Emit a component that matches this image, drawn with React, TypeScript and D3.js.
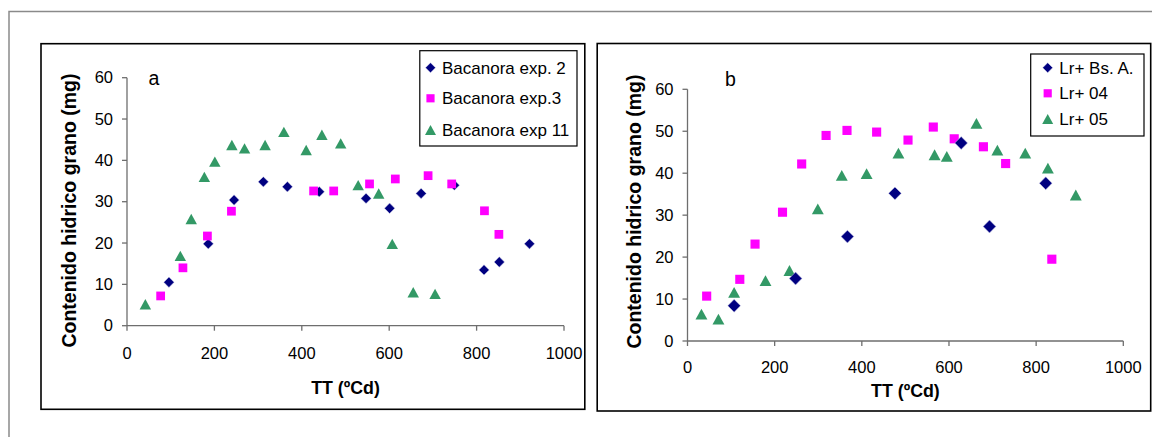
import React from 'react';
import * as d3 from 'd3';

// shared axes
const xTicks = [0, 200, 400, 600, 800, 1000];
const yTicks = [0, 10, 20, 30, 40, 50, 60];

// panel a (TT ºCd, mg)
const bacanoraExp2: [number, number][] = [
  [96, 10.5], [186, 19.8], [245, 30.4], [312, 34.8], [367, 33.6], [440, 32.4], [547, 30.8],
  [601, 28.4], [673, 32.0], [749, 34.0], [817, 13.5], [852, 15.4], [921, 19.8],
];
const bacanoraExp3: [number, number][] = [
  [77, 7.2], [128, 14.0], [184, 21.7], [239, 27.7], [427, 32.6], [473, 32.6], [555, 34.3],
  [614, 35.5], [689, 36.3], [743, 34.3], [818, 27.8], [851, 22.1],
];
const bacanoraExp11: [number, number][] = [
  [42, 5.2], [122, 16.9], [147, 25.8], [177, 36.0], [201, 39.7], [240, 43.7], [269, 42.9],
  [316, 43.7], [359, 46.9], [410, 42.5], [446, 46.2], [489, 44.1], [529, 34.0], [576, 32.0],
  [607, 19.8], [655, 8.1], [705, 7.7],
];
const namesA = ['Bacanora exp. 2', 'Bacanora exp.3', 'Bacanora exp 11'];

// panel b
const lrBsA: [number, number][] = [
  [107, 8.4], [248, 14.9], [367, 24.9], [476, 35.2], [628, 47.2], [693, 27.3], [822, 37.6],
];
const lr04: [number, number][] = [
  [44, 10.7], [120, 14.7], [155, 23.1], [218, 30.7], [262, 42.2], [318, 49.0], [366, 50.2],
  [434, 49.8], [506, 47.9], [564, 51.0], [612, 48.2], [679, 46.3], [730, 42.3], [836, 19.5],
];
const lr05: [number, number][] = [
  [32, 6.4], [71, 5.2], [107, 11.6], [179, 14.4], [234, 16.8], [299, 31.5], [354, 39.5],
  [411, 39.9], [484, 44.8], [567, 44.4], [595, 44.0], [663, 51.9], [711, 45.5], [775, 44.8],
  [827, 41.2], [891, 34.8],
];
const namesB = ['Lr+ Bs. A.', 'Lr+ 04', 'Lr+ 05'];

const FONT = '"Liberation Sans", Arial, Helvetica, sans-serif';
const COLORS = ['#000080', '#FF00FF', '#339966'];

function Marker({ kind, x, y, r }: { kind: number; x: number; y: number; r: number }) {
  if (kind === 0) {
    return (
      <path
        d={`M${x},${y - r}L${x + r},${y}L${x},${y + r}L${x - r},${y}Z`}
        fill={COLORS[0]}
        stroke="#d8d8ee"
        strokeWidth={0.5}
      />
    );
  }
  if (kind === 1) {
    const s = r * 0.95;
    return <rect x={x - s} y={y - s} width={s * 2} height={s * 2} fill={COLORS[1]} />;
  }
  const w = r * 1.1;
  return (
    <path
      d={`M${x},${y - r}L${x + w},${y + r}L${x - w},${y + r}Z`}
      fill={COLORS[2]}
    />
  );
}

interface PanelProps {
  box: { x0: number; y0: number; x1: number; y1: number };
  plot: { x0: number; y0: number; x1: number; y1: number };
  series: [number, number][][];
  names: string[];
  order: number[];
  letter: string;
  letterPos: [number, number];
  yTitleX: number;
  yTitleY: number;
  xLabelY: number;
  xTitleY: number;
  radii: number[];
  legend: { x0: number; y0: number; x1: number; y1: number; mx: number; tx: number; rows: number[] };
}

function Panel(p: PanelProps) {
  const x = d3.scaleLinear().domain([0, 1000]).range([p.plot.x0, p.plot.x1]);
  const y = d3.scaleLinear().domain([0, 60]).range([p.plot.y1, p.plot.y0]);
  const axisColor = '#6e6e6e';
  return (
    <g>
      <rect
        x={p.box.x0}
        y={p.box.y0}
        width={p.box.x1 - p.box.x0}
        height={p.box.y1 - p.box.y0}
        fill="#fff"
        stroke="#000"
        strokeWidth={1.6}
      />
      {/* axes */}
      <line x1={x(0)} x2={x(1000)} y1={y(0)} y2={y(0)} stroke={axisColor} strokeWidth={1.3} />
      <line x1={x(0)} x2={x(0)} y1={y(0)} y2={y(60)} stroke={axisColor} strokeWidth={1.3} />
      {xTicks.map((t) => (
        <g key={'xt' + t}>
          <line x1={x(t)} x2={x(t)} y1={y(0)} y2={y(0) + 5} stroke={axisColor} strokeWidth={1.3} />
          <text x={x(t)} y={p.xLabelY} textAnchor="middle" fontSize={16.5} fontFamily={FONT}>
            {t}
          </text>
        </g>
      ))}
      {yTicks.map((t) => (
        <g key={'yt' + t}>
          <line x1={x(0) - 5} x2={x(0)} y1={y(t)} y2={y(t)} stroke={axisColor} strokeWidth={1.3} />
          <text
            x={x(0) - 14}
            y={y(t)}
            dy="0.35em"
            textAnchor="end"
            fontSize={16.5}
            fontFamily={FONT}
          >
            {t}
          </text>
        </g>
      ))}
      <text
        x={(p.plot.x0 + p.plot.x1) / 2}
        y={p.xTitleY}
        textAnchor="middle"
        fontSize={17.8}
        fontWeight="bold"
        fontFamily={FONT}
      >
        TT (ºCd)
      </text>
      <text
        transform={`translate(${p.yTitleX},${p.yTitleY}) rotate(-90)`}
        textAnchor="middle"
        fontSize={19.5}
        fontWeight="bold"
        fontFamily={FONT}
      >
        Contenido hidrico grano (mg)
      </text>
      <text x={p.letterPos[0]} y={p.letterPos[1]} fontSize={19.5} fontFamily={FONT}>
        {p.letter}
      </text>
      {/* points */}
      {p.order.map((si) => (
        <g key={'s' + si}>
          {p.series[si].map(([vx, vy], i) => (
            <Marker key={i} kind={si} x={x(vx)} y={y(vy)} r={p.radii[si]} />
          ))}
        </g>
      ))}
      {/* legend */}
      <rect
        x={p.legend.x0}
        y={p.legend.y0}
        width={p.legend.x1 - p.legend.x0}
        height={p.legend.y1 - p.legend.y0}
        fill="#fff"
        stroke="#000"
        strokeWidth={1.2}
      />
      {p.names.map((n, i) => (
        <g key={n}>
          <Marker kind={i} x={p.legend.mx} y={p.legend.rows[i]} r={i === 1 ? 4.3 : 5} />
          <text
            x={p.legend.tx}
            y={p.legend.rows[i]}
            dy="0.36em"
            fontSize={17}
            fontFamily={FONT}
          >
            {n}
          </text>
        </g>
      ))}
    </g>
  );
}

export default function App() {
  return (
    <svg
      width={1152}
      height={437}
      style={{ position: 'absolute', left: 0, top: 0, background: '#fff' }}
    >
      <rect x={0} y={0} width={1152} height={437} fill="#fff" />
      {/* outer frame */}
      <path d="M9,437L9,11.5L1152,11.5" fill="none" stroke="#8a8a8a" strokeWidth={1.5} />
      <Panel
        box={{ x0: 41, y0: 43.7, x1: 584.8, y1: 409.3 }}
        plot={{ x0: 127, y0: 77.7, x1: 564, y1: 325.7 }}
        series={[bacanoraExp2, bacanoraExp3, bacanoraExp11]}
        names={namesA}
        order={[0, 1, 2]}
        letter="a"
        letterPos={[148.5, 85]}
        yTitleX={76}
        yTitleY={210.5}
        xLabelY={358.5}
        xTitleY={394}
        radii={[5.2, 4.6, 5.2]}
        legend={{ x0: 419.8, y0: 50.7, x1: 577, y1: 146, mx: 430.5, tx: 442, rows: [67.7, 98.3, 130] }}
      />
      <Panel
        box={{ x0: 597.2, y0: 43.5, x1: 1150.7, y1: 411 }}
        plot={{ x0: 687.5, y0: 89.3, x1: 1123.3, y1: 341 }}
        series={[lrBsA, lr04, lr05]}
        names={namesB}
        order={[1, 2, 0]}
        letter="b"
        letterPos={[725, 86]}
        yTitleX={641}
        yTitleY={211.5}
        xLabelY={373}
        xTitleY={397}
        radii={[6.4, 4.8, 5.4]}
        legend={{ x0: 1030.7, y0: 54, x1: 1144, y1: 136, mx: 1047.7, tx: 1059.3, rows: [67.7, 93.3, 119] }}
      />
    </svg>
  );
}
